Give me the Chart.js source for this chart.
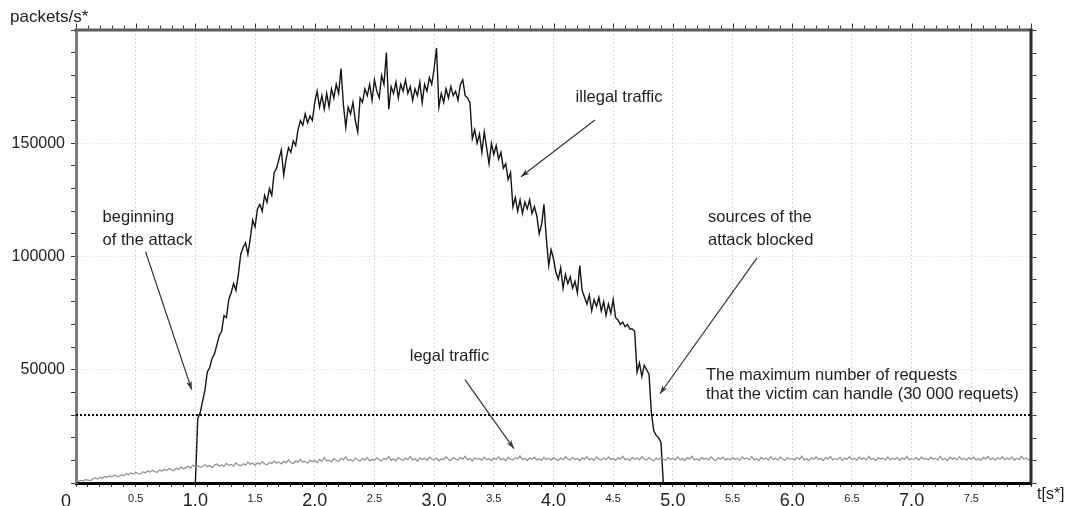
<!DOCTYPE html>
<html>
<head>
<meta charset="utf-8">
<script src="https://cdn.jsdelivr.net/npm/chart.js@4/dist/chart.umd.min.js"></script>
<style>
  html, body { margin: 0; padding: 0; background: #fff; }
  #wrap { width: 1068px; height: 506px; position: relative; }
</style>
</head>
<body>
<div id="wrap"><canvas id="c"></canvas></div>
<script>
// ---- data -------------------------------------------------------------
// time axis (seconds) and packet-rate axis
const timeRange = [0, 8];
const rateRange = [0, 200000];
const timeTickStep = 0.1;
const rateTickStep = 10000;

// legal traffic, sampled every 0.02 s from t = 0 (one row = 0.5 s)
const legalStart = 0;
const legalStep = 0.02;
const legalRate = [
  900, 700, 1200, 1000, 1500, 1300, 1100, 1800, 2200, 1700, 2600, 2100, 2900, 2500, 3200, 2700, 3500, 3000, 2800, 3600, 3300, 4100, 3600, 4400, 3900,
  4700, 4200, 3900, 5000, 4500, 5300, 4800, 5600, 5000, 4700, 5800, 5300, 6100, 5500, 6400, 5900, 5400, 6600, 6000, 7100, 6300, 6800, 7400, 6600, 7900,
  7000, 7600, 6900, 7300, 8100, 7200, 7700, 6800, 7900, 8400, 7500, 8000, 7300, 8700, 7800, 8200, 7400, 8900, 8000, 7600, 8500, 7900, 9200, 8300, 8700,
  7900, 8800, 8300, 9400, 8500, 8000, 9100, 8600, 9800, 8700, 9300, 8400, 9600, 8900, 10300, 9000, 8600, 9700, 9200, 10500, 9100, 9500, 8800, 10000, 9400,
  9900, 9000, 10400, 9600, 11200, 9800, 10100, 9300, 10700, 10000, 9500, 10900, 10200, 11500, 9900, 10400, 9600, 11000, 10300, 9700, 10800, 10100, 11300, 9800, 10500,
  10000, 11100, 10300, 9700, 10900, 10400, 11600, 10100, 10600, 9800, 11200, 10500, 9900, 11000, 10300, 11700, 10200, 10800, 9600, 11100, 10400, 10900, 10000, 11400, 10600,
  10100, 11000, 9800, 10700, 10300, 11500, 10400, 9900, 11200, 10600, 10000, 11300, 10500, 11800, 10200, 10900, 9700, 11100, 10400, 10800, 10000, 11400, 10300, 10700, 9900,
  11000, 10400, 11600, 10200, 10800, 9800, 11300, 10500, 10100, 11200, 10600, 11900, 10300, 10900, 9900, 11100, 10500, 11400, 10200, 10700, 10000, 11300, 10400, 10900, 10100,
  11200, 10500, 9900, 11000, 10300, 11600, 10600, 10100, 11300, 10400, 10800, 9800, 11100, 10500, 11700, 10200, 10900, 10000, 11400, 10600, 10100, 11000, 10300, 11500, 10400,
  10800, 10000, 11200, 10500, 11800, 10300, 10700, 9900, 11300, 10400, 11000, 10200, 11600, 10600, 10100, 11100, 10500, 9800, 11000, 10300, 11400, 10600, 10000, 11200, 10400,
  10900, 10100, 11500, 10300, 10800, 9900, 11200, 10600, 11800, 10200, 10700, 10000, 11300, 10500, 11000, 10200, 11600, 10400, 9900, 11100, 10500, 11400, 10100, 10800, 10300,
  11200, 10400, 10900, 10000, 11500, 10600, 11100, 10200, 11700, 10300, 10800, 9900, 11300, 10500, 11000, 10100, 11600, 10400, 10900, 10200, 11400, 10600, 10000, 11200, 10500,
  10800, 10100, 11300, 10400, 11900, 10200, 10700, 9900, 11100, 10500, 11500, 10300, 10900, 10000, 11200, 10600, 11700, 10200, 10800, 10400, 11300, 10000, 11000, 10500, 11600,
  10300, 10900, 10100, 11400, 10500, 11100, 10200, 11800, 10400, 10800, 9900, 11200, 10600, 11000, 10100, 11500, 10300, 10900, 10500, 11300, 10000, 11100, 10400, 11700, 10200,
  10800, 10400, 11200, 10000, 11500, 10600, 10900, 10200, 11400, 10500, 11000, 10100, 11800, 10300, 10800, 9900, 11300, 10600, 11100, 10200, 11600, 10400, 10900, 10100, 11200,
  10500, 11400, 10200, 10800, 10000, 11300, 10600, 11700, 10300, 10900, 10100, 11200, 10500, 11600, 10200, 11000, 10400, 11500, 10100, 10900, 10300, 11800, 10500, 11100, 10200,
  10700
];

// illegal (attack) traffic: zero before the attack, then sampled every 0.02 s from t = 1.00 (one row = 0.2 s)
const idleRate = 0;
const attackStart = 1.0;
const attackStep = 0.02;
const attackRate = [
  0, 28500, 31000, 36000, 41000, 49000, 51000, 55000, 57000, 61000,
  65000, 67000, 74000, 73000, 81000, 84000, 88000, 85000, 92000, 101000,
  104000, 106000, 101000, 108000, 116000, 113000, 121000, 123000, 120000, 127000,
  124000, 130000, 127000, 137000, 139000, 143000, 147000, 136000, 143000, 148000,
  146000, 151000, 149000, 156000, 160000, 158000, 163000, 159000, 162000, 160000,
  168000, 173000, 166000, 171000, 165000, 172000, 166000, 174000, 170000, 176000,
  172000, 183000, 167000, 157000, 166000, 163000, 168000, 160000, 155000, 170000,
  168000, 174000, 171000, 176000, 169000, 178000, 173000, 170000, 180000, 176000,
  190000, 165000, 175000, 172000, 177000, 170000, 176000, 173000, 178000, 172000,
  175000, 169000, 174000, 171000, 177000, 168000, 176000, 173000, 179000, 176000,
  183000, 192000, 166000, 172000, 168000, 174000, 170000, 175000, 171000, 173000,
  169000, 176000, 178000, 171000, 170000, 168000, 152000, 156000, 150000, 154000,
  146000, 155000, 148000, 141000, 150000, 145000, 149000, 143000, 146000, 139000,
  141000, 134000, 137000, 122000, 126000, 120000, 125000, 119000, 124000, 121000,
  125000, 119000, 122000, 118000, 110000, 114000, 123000, 108000, 96000, 103000,
  99000, 93000, 90000, 95000, 86000, 92000, 88000, 91000, 86000, 89000,
  84000, 96000, 85000, 82000, 79000, 83000, 76000, 81000, 78000, 82000,
  76000, 80000, 74000, 79000, 75000, 81000, 73000, 72000, 70000, 71000,
  69000, 70000, 68000, 68000, 67000, 49000, 53000, 47000, 52000, 50000,
  48000, 31000, 23000, 21000, 20000, 18000, 0
];

// capacity of the victim (requests per second)
const victimCapacity = 30000;

// ---- text and arrows (placed in data coordinates) ----------------------
const notes = [
  { text: 'beginning', t: 0.223, v: 117100 },
  { text: 'of the attack', t: 0.223, v: 106900 },
  { text: 'illegal traffic', t: 4.185, v: 170000 },
  { text: 'sources of the', t: 5.294, v: 117100 },
  { text: 'attack blocked', t: 5.294, v: 106900 },
  { text: 'legal traffic', t: 2.796, v: 55700 },
  { text: 'The maximum number of requests', t: 5.277, v: 47400 },
  { text: 'that the victim can handle (30 000 requets)', t: 5.277, v: 39200 }
];
const arrows = [
  { from: [0.583, 102100], to: [0.969, 41200] },
  { from: [4.347, 160300], to: [3.727, 135200] },
  { from: [3.258, 45600], to: [3.668, 15200] },
  { from: [5.705, 99400], to: [4.892, 39400] }
];

// ---- build series ----------------------------------------------------
const legalPoints = legalRate.map((v, i) => ({ x: +(legalStart + i * legalStep).toFixed(3), y: v }));
const attackPoints = [{ x: timeRange[0], y: idleRate }].concat(
  attackRate.map((v, i) => ({ x: +(attackStart + i * attackStep).toFixed(3), y: v }))
);
const capacityPoints = [{ x: timeRange[0], y: victimCapacity }, { x: timeRange[1], y: victimCapacity }];

const FONT = '"Liberation Sans", Arial, Helvetica, sans-serif';
const isHalf = v => Math.abs(Math.round(v * 10)) % 5 === 0;
const isWhole = v => Math.abs(Math.round(v * 10)) % 10 === 0;

// frame on the top and right edges, tick marks there, and the annotations
const decorPlugin = {
  id: 'decor',
  afterDraw(chart) {
    const { ctx, chartArea: a, scales: { x, y } } = chart;
    ctx.save();
    // top edge
    ctx.strokeStyle = '#5c5c5c';
    ctx.lineWidth = 3;
    ctx.beginPath(); ctx.moveTo(a.left - 1.5, a.top); ctx.lineTo(a.right + 1.5, a.top); ctx.stroke();
    // right edge
    ctx.strokeStyle = '#2a2a2a';
    ctx.beginPath(); ctx.moveTo(a.right, a.top - 1.5); ctx.lineTo(a.right, a.bottom + 1.5); ctx.stroke();

    ctx.lineWidth = 1;
    ctx.strokeStyle = '#333';
    x.ticks.forEach(tk => {
      const px = Math.round(x.getPixelForValue(tk.value)) + 0.5;
      ctx.beginPath();
      ctx.moveTo(px, a.top - 1.5);
      ctx.lineTo(px, a.top - (isHalf(tk.value) ? 6.5 : 4.5));
      ctx.stroke();
    });
    y.ticks.forEach(tk => {
      const py = Math.round(y.getPixelForValue(tk.value)) + 0.5;
      ctx.beginPath();
      ctx.moveTo(a.right + 1.5, py);
      ctx.lineTo(a.right + 5.5, py);
      ctx.stroke();
    });

    // axis captions and origin
    ctx.fillStyle = '#1e1e1e';
    ctx.textBaseline = 'alphabetic';
    ctx.textAlign = 'left';
    ctx.font = '17px ' + FONT;
    ctx.fillText('packets/s*', 10, 22);
    ctx.font = '16px ' + FONT;
    ctx.fillText('t[s*]', a.right + 6, 499);
    ctx.font = '18px ' + FONT;
    ctx.textAlign = 'center';
    ctx.fillText('0', a.left - 10, 507);

    // notes
    ctx.font = '16.5px ' + FONT;
    ctx.textAlign = 'left';
    ctx.textBaseline = 'middle';
    notes.forEach(n => ctx.fillText(n.text, x.getPixelForValue(n.t), y.getPixelForValue(n.v)));

    // arrows
    ctx.strokeStyle = '#333';
    ctx.fillStyle = '#333';
    ctx.lineWidth = 1.2;
    arrows.forEach(ar => {
      const x0 = x.getPixelForValue(ar.from[0]), y0 = y.getPixelForValue(ar.from[1]);
      const x1 = x.getPixelForValue(ar.to[0]), y1 = y.getPixelForValue(ar.to[1]);
      const ang = Math.atan2(y1 - y0, x1 - x0);
      ctx.beginPath(); ctx.moveTo(x0, y0); ctx.lineTo(x1, y1); ctx.stroke();
      const len = 9, spread = 0.32;
      ctx.beginPath();
      ctx.moveTo(x1, y1);
      ctx.lineTo(x1 - len * Math.cos(ang - spread), y1 - len * Math.sin(ang - spread));
      ctx.lineTo(x1 - len * 0.7 * Math.cos(ang), y1 - len * 0.7 * Math.sin(ang));
      ctx.lineTo(x1 - len * Math.cos(ang + spread), y1 - len * Math.sin(ang + spread));
      ctx.closePath();
      ctx.fill();
    });
    ctx.restore();
  }
};

new Chart(document.getElementById('c'), {
  type: 'line',
  data: {
    datasets: [
      { label: 'legal traffic', data: legalPoints, borderColor: '#8e8e8e', borderWidth: 1.2,
        pointRadius: 0, tension: 0, fill: false },
      { label: 'illegal traffic', data: attackPoints, borderColor: '#151515', borderWidth: 1.4,
        pointRadius: 0, tension: 0, fill: false },
      { label: 'victim capacity', data: capacityPoints, borderColor: '#000', borderWidth: 2,
        borderDash: [2, 2], pointRadius: 0, tension: 0, fill: false }
    ]
  },
  options: {
    responsive: true,
    maintainAspectRatio: false,
    animation: false,
    events: [],
    layout: { padding: { left: 0, top: 30, right: 37, bottom: 0 } },
    plugins: { legend: { display: false }, tooltip: { enabled: false }, title: { display: false } },
    scales: {
      x: {
        type: 'linear',
        min: timeRange[0],
        max: timeRange[1],
        afterFit: s => { s.height = 23; },
        border: { display: true, color: '#000', width: 3, dash: [2, 2] },
        grid: {
          color: c => (c.tick && isHalf(c.tick.value) && c.tick.value > 0 && c.tick.value < 8) ? '#d6d6d6' : 'rgba(0,0,0,0)',
          lineWidth: 1,
          drawTicks: true,
          tickLength: 4,
          tickColor: '#333',
          tickWidth: 1
        },
        ticks: {
          stepSize: timeTickStep,
          maxTicksLimit: 200,
          autoSkip: false,
          maxRotation: 0,
          minRotation: 0,
          padding: 2,
          color: '#222',
          font: c => (c.tick && isWhole(c.tick.value))
            ? { family: FONT, size: 18, lineHeight: 1.39 }
            : { family: FONT, size: 11, lineHeight: 1.73 },
          callback: v => (isHalf(v) && v > 0 && v < 8) ? v.toFixed(1) : ''
        }
      },
      y: {
        type: 'linear',
        min: rateRange[0],
        max: rateRange[1],
        afterFit: s => { s.width = 76; },
        border: { display: true, color: '#7c7c7c', width: 3, dash: [1, 2] },
        grid: {
          color: c => (c.tick && c.tick.value % 50000 === 0 && c.tick.value > 0 && c.tick.value < 200000) ? '#d6d6d6' : 'rgba(0,0,0,0)',
          lineWidth: 1,
          drawTicks: true,
          tickLength: 5,
          tickColor: '#333',
          tickWidth: 1
        },
        ticks: {
          stepSize: rateTickStep,
          autoSkip: false,
          padding: 6,
          color: '#222',
          font: { family: FONT, size: 16 },
          callback: v => (v % 50000 === 0 && v > 0 && v < 200000) ? String(v) : ''
        }
      }
    }
  },
  plugins: [decorPlugin]
});
</script>
</body>
</html>
